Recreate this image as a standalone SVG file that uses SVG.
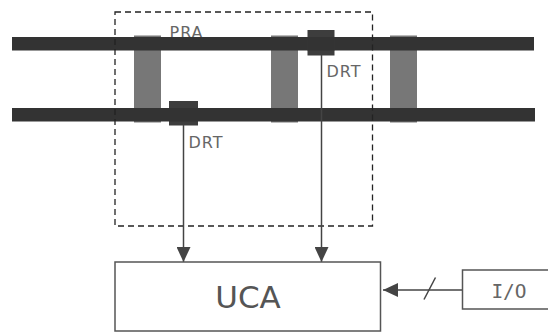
<svg xmlns="http://www.w3.org/2000/svg" width="548" height="335" viewBox="0 0 548 335">
<defs>
<style>
.lbl{font-family:"DejaVu Sans",sans-serif;fill:#666;font-size:16px;letter-spacing:1px}
.line{stroke:#444;stroke-width:1.5;fill:none}
.box{fill:#fff;stroke:#555;stroke-width:1.5}
.pillar{fill:#777}
.bar{fill:#333}
.drt{fill:#3d3d3d}
</style>
<marker id="ah" markerUnits="userSpaceOnUse" markerWidth="15" markerHeight="14" refX="15" refY="7" orient="auto">
<path d="M0 0L15 7L0 14Z" fill="#444"/>
</marker>
</defs>
<rect width="548" height="335" fill="#fff"/>
<g id="PRA-label"><text class="lbl" x="169.500" y="37.500">PRA</text></g>
<g id="pillars">
<rect class="pillar" x="134" y="35.500" width="27" height="87"/>
<rect class="pillar" x="271" y="35.500" width="27" height="87"/>
<rect class="pillar" x="390" y="35.500" width="27" height="87"/>
</g>
<g id="bars">
<rect class="bar" x="12" y="37" width="522" height="13.500"/>
<rect class="bar" x="12" y="108" width="523" height="13.500"/>
</g>
<g id="DRT-lower">
<rect class="drt" x="169" y="101" width="29" height="24.500"/>
<rect class="bar" x="169" y="108" width="29" height="13.500"/>
<text class="lbl" x="188.500" y="147.500">DRT</text>
</g>
<g id="DRT-upper">
<rect class="drt" x="307.500" y="30" width="27" height="25.500"/>
<rect class="bar" x="307.500" y="37" width="27" height="13.500"/>
<text class="lbl" x="326.500" y="77">DRT</text>
</g>
<g id="boundary"><rect x="115" y="12" width="257.500" height="214" fill="none" stroke="#222" stroke-width="1.300" stroke-dasharray="6 4"/></g>
<g id="connectors">
<line class="line" x1="183.500" y1="125" x2="183.500" y2="262" marker-end="url(#ah)"/>
<line class="line" x1="321.500" y1="55" x2="321.500" y2="262" marker-end="url(#ah)"/>
<line class="line" x1="462" y1="290" x2="383" y2="290" marker-end="url(#ah)"/>
<line class="line" x1="424" y1="299.500" x2="435.500" y2="277.500" stroke-width="1.200"/>
</g>
<g id="UCA">
<rect class="box" x="115" y="262" width="265.500" height="69"/>
<text x="248" y="308" text-anchor="middle" font-family="'DejaVu Sans',sans-serif" font-size="31" fill="#555">UCA</text>
</g>
<g id="IO">
<rect class="box" x="462.500" y="270" width="90" height="39"/>
<text x="509" y="298" text-anchor="middle" font-family="'DejaVu Sans Mono',monospace" font-size="19.500" fill="#666">I/O</text>
</g>
</svg>
